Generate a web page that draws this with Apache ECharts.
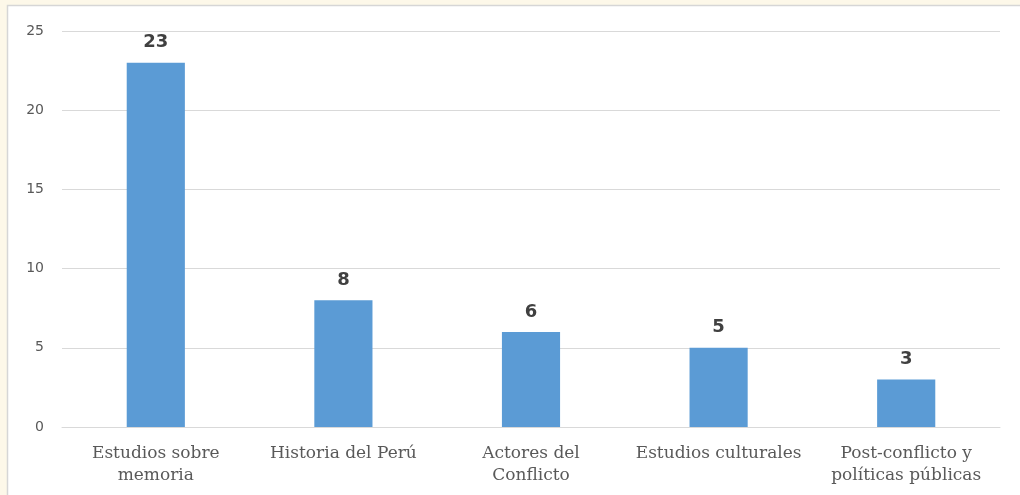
<!DOCTYPE html>
<html>
<head>
<meta charset="utf-8">
<script src="https://cdn.jsdelivr.net/npm/echarts@6/dist/echarts.min.js"></script>
<style>
  html, body { margin: 0; padding: 0; background: #fdf8e9; }
  #chart { width: 1020px; height: 495px; }
</style>
</head>
<body>
<div id="chart"></div>
<script>
// categorías y valores
var categories = ['Estudios sobre\nmemoria', 'Historia del Perú', 'Actores del\nConflicto', 'Estudios culturales', 'Post-conflicto y\npolíticas públicas']
var values = [23, 8, 6, 5, 3]
var yTicks = [0, 5, 10, 15, 20, 25]

var chart = echarts.init(document.getElementById('chart'))
chart.setOption({
  backgroundColor: '#fdf8e9',
  animation: false,
  graphic: [{
    type: 'rect',
    z: -10,
    shape: { x: 7.5, y: 5.5, width: 1030, height: 510 },
    style: { fill: '#ffffff', stroke: '#d6d6d6', lineWidth: 1.5 }
  }],
  grid: { left: 62, right: 20, top: 31, bottom: 68 },
  xAxis: {
    type: 'category',
    data: categories,
    axisLine: { lineStyle: { color: '#d9d9d9', width: 1 } },
    axisTick: { show: false },
    axisLabel: {
      interval: 0,
      margin: 16,
      fontFamily: 'DejaVu Serif',
      fontSize: 17,
      lineHeight: 22,
      color: '#595959'
    }
  },
  yAxis: {
    type: 'value',
    min: yTicks[0],
    max: yTicks[yTicks.length - 1],
    interval: 5,
    axisLine: { show: false },
    axisTick: { show: false },
    axisLabel: { margin: 18, fontFamily: 'DejaVu Sans', fontSize: 14, color: '#595959' },
    splitLine: { lineStyle: { color: '#d9d9d9', width: 1 } }
  },
  series: [{
    type: 'bar',
    data: values,
    barWidth: '31%',
    itemStyle: { color: '#5b9bd5' },
    label: {
      show: true,
      position: 'top',
      distance: 11,
      fontFamily: 'DejaVu Sans',
      fontWeight: 'bold',
      fontSize: 18,
      color: '#404040'
    }
  }]
})
</script>
</body>
</html>
